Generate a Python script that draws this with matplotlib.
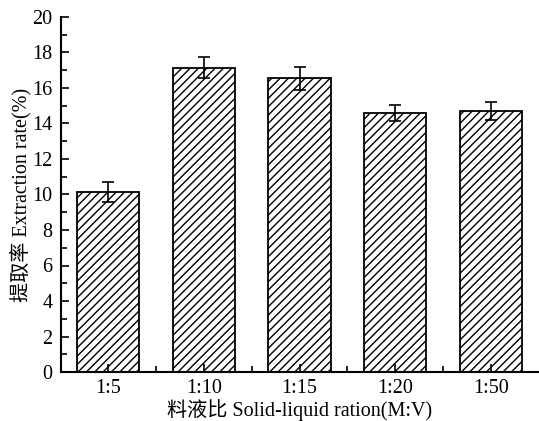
import matplotlib
matplotlib.use("Agg")
import matplotlib.pyplot as plt
from matplotlib.ticker import MultipleLocator, FixedLocator

plt.rcParams['font.family'] = ['Liberation Serif', 'Noto Sans CJK SC']
plt.rcParams['hatch.linewidth'] = 1.0

# data
ratios = ['1:5', '1:10', '1:15', '1:20', '1:50']
rate = [10.15, 17.15, 16.55, 14.6, 14.7]
rate_err = [0.55, 0.57, 0.65, 0.45, 0.5]

fig = plt.figure(figsize=(5.39, 4.21), dpi=100)
ax = fig.add_axes([61 / 539, 49 / 421, 477 / 539, 355 / 421])

x = list(range(len(ratios)))
ax.bar(x, rate, width=0.65, color='white', edgecolor='black',
       linewidth=1.3, hatch='////')
ax.errorbar(x, rate, yerr=rate_err, fmt='none', ecolor='black',
            elinewidth=1.2, capsize=4, capthick=1.2)

ax.set_xlim(-0.49, 4.49)
ax.set_ylim(0, 20)
ax.set_xticks(x)
ax.set_xticklabels(ratios)
ax.xaxis.set_minor_locator(FixedLocator([0.5, 1.5, 2.5, 3.5]))
ax.yaxis.set_major_locator(MultipleLocator(2))
ax.yaxis.set_minor_locator(MultipleLocator(1))

ax.tick_params(axis='both', which='major', direction='in', length=6,
               width=1.2, labelsize=14.5)
ax.tick_params(axis='both', which='minor', direction='in', length=4,
               width=1.2)
ax.tick_params(axis='x', pad=5)
ax.tick_params(axis='y', pad=6)

for side in ['top', 'right']:
    ax.spines[side].set_visible(False)
for side in ['left', 'bottom']:
    ax.spines[side].set_linewidth(1.5)

ax.set_xlabel('料液比 Solid-liquid ration(M:V)', fontsize=14.5, labelpad=1)
ax.set_ylabel('提取率 Extraction rate(%)', fontsize=14.5, labelpad=1)

fig.savefig('out.png', dpi=100)
